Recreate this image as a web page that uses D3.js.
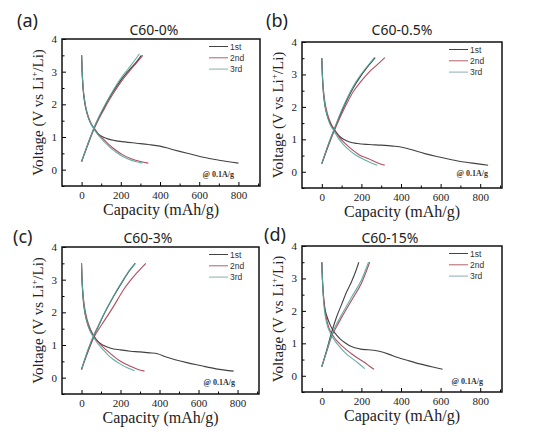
<!DOCTYPE html>
<html><head><meta charset="utf-8">
<script src="https://cdn.jsdelivr.net/npm/d3@7"></script>
<style>body{margin:0;background:#fff}svg{display:block}
.serif{font-family:"Liberation Serif","DejaVu Serif",serif}
.sans{font-family:"Noto Sans","Open Sans",sans-serif}
.arial{font-family:"Liberation Sans","DejaVu Sans",sans-serif}
</style>
</head><body>
<svg id="c" width="539" height="436"></svg>
<script>
// ---------- data ----------
const seriesNames = ["1st", "2nd", "3rd"];
const panelTitles = ["C60-0%", "C60-0.5%", "C60-3%", "C60-15%"];
const panelTags = ["(a)", "(b)", "(c)", "(d)"];
const xTicks = [0, 200, 400, 600, 800];
const yTicks = [0, 1, 2, 3, 4];
const rateNote = "@ 0.1A/g";

// Panel (a) C60-0%  [capacity mAh/g, voltage V]
const a_dis1 = [[0,3.5],[2,3.1],[6,2.6],[12,2.2],[22,1.85],[35,1.58],[50,1.38],[65,1.24],[80,1.12],[100,1.03],[130,0.95],[170,0.89],[220,0.85],[280,0.81],[340,0.77],[400,0.72],[450,0.64],[500,0.56],[560,0.47],[620,0.38],[700,0.29],[800,0.2]];
const a_ch1  = [[0,0.25],[30,0.75],[64,1.28],[110,1.85],[158,2.36],[200,2.74],[242,3.05],[280,3.3],[305,3.5]];
const a_dis2 = [[0,3.5],[3,3.0],[8,2.5],[16,2.1],[28,1.75],[45,1.45],[64,1.27],[85,1.1],[107,0.96],[130,0.82],[158,0.67],[180,0.57],[208,0.46],[250,0.34],[300,0.25],[340,0.2]];
const a_ch2  = [[0,0.25],[30,0.73],[64,1.25],[110,1.8],[158,2.3],[200,2.68],[242,3.0],[280,3.27],[312,3.5]];
const a_dis3 = [[0,3.5],[3,3.0],[8,2.5],[16,2.1],[27,1.75],[44,1.45],[62,1.26],[82,1.08],[104,0.93],[128,0.78],[155,0.63],[180,0.52],[205,0.42],[240,0.32],[280,0.24],[310,0.2]];
const a_ch3  = [[0,0.25],[30,0.76],[64,1.3],[110,1.88],[158,2.4],[200,2.8],[242,3.12],[275,3.38],[295,3.55]];

// Panel (b) C60-0.5%
const b_dis1 = [[0,3.5],[2,3.1],[6,2.6],[12,2.2],[22,1.85],[35,1.6],[50,1.42],[66,1.28],[85,1.12],[110,1.0],[140,0.92],[180,0.87],[240,0.84],[300,0.82],[360,0.79],[410,0.75],[460,0.67],[520,0.56],[580,0.47],[650,0.38],[720,0.3],[780,0.25],[840,0.2]];
const b_ch1  = [[0,0.25],[30,0.78],[64,1.32],[100,1.85],[130,2.25],[160,2.6],[200,2.98],[240,3.3],[270,3.52]];
const b_dis2 = [[0,3.5],[3,3.0],[8,2.55],[16,2.15],[28,1.8],[45,1.5],[66,1.27],[90,1.05],[120,0.86],[150,0.7],[190,0.52],[236,0.4],[280,0.28],[318,0.2]];
const b_ch2  = [[0,0.25],[30,0.75],[64,1.28],[100,1.78],[130,2.15],[160,2.48],[200,2.8],[240,3.08],[280,3.3],[318,3.52]];
const b_dis3 = [[0,3.5],[3,3.0],[8,2.5],[15,2.1],[26,1.75],[42,1.45],[62,1.25],[85,1.02],[112,0.82],[140,0.66],[175,0.5],[215,0.37],[250,0.27],[280,0.2]];
const b_ch3  = [[0,0.25],[30,0.8],[64,1.34],[100,1.9],[130,2.3],[160,2.65],[200,3.02],[240,3.33],[265,3.52]];

// Panel (c) C60-3%
const c_dis1 = [[0,3.5],[2,3.1],[6,2.6],[12,2.2],[22,1.85],[35,1.58],[50,1.38],[66,1.24],[85,1.1],[112,0.99],[150,0.9],[200,0.85],[250,0.81],[300,0.79],[350,0.76],[390,0.73],[430,0.64],[480,0.55],[540,0.46],[610,0.37],[690,0.27],[780,0.2]];
const c_ch1  = [[0,0.25],[30,0.78],[64,1.3],[90,1.62],[112,1.9],[162,2.46],[213,2.97],[247,3.28],[275,3.5]];
const c_dis2 = [[0,3.5],[3,3.0],[8,2.55],[16,2.15],[28,1.8],[45,1.5],[66,1.25],[90,1.06],[112,0.93],[140,0.78],[162,0.67],[200,0.5],[247,0.36],[290,0.25],[323,0.2]];
const c_ch2  = [[0,0.25],[30,0.74],[64,1.24],[90,1.5],[112,1.7],[162,2.16],[213,2.67],[281,3.19],[330,3.5]];
const c_dis3 = [[0,3.5],[3,3.0],[8,2.5],[15,2.1],[26,1.75],[42,1.45],[62,1.24],[85,1.03],[110,0.86],[135,0.7],[160,0.57],[195,0.43],[235,0.3],[272,0.21]];
const c_ch3  = [[0,0.25],[30,0.8],[64,1.32],[90,1.64],[112,1.92],[162,2.48],[213,2.99],[247,3.3],[277,3.5]];

// Panel (d) C60-15%
const d_dis1 = [[0,3.5],[3,3.0],[8,2.5],[15,2.1],[25,1.85],[40,1.6],[55,1.42],[75,1.25],[95,1.12],[117,1.02],[150,0.9],[190,0.83],[234,0.8],[270,0.78],[300,0.74],[340,0.66],[380,0.57],[441,0.46],[500,0.36],[560,0.27],[610,0.2]];
const d_ch1  = [[0,0.28],[25,0.8],[50,1.35],[75,1.82],[100,2.2],[125,2.58],[150,2.9],[170,3.2],[187,3.5]];
const d_dis2 = [[0,3.5],[3,3.0],[7,2.55],[13,2.15],[22,1.8],[35,1.5],[50,1.3],[70,1.12],[100,0.93],[125,0.8],[150,0.68],[180,0.55],[217,0.41],[240,0.3],[264,0.2]];
const d_ch2  = [[0,0.28],[25,0.75],[50,1.22],[75,1.52],[100,1.8],[150,2.32],[200,2.85],[242,3.5]];
const d_dis3 = [[0,3.5],[3,3.0],[7,2.5],[12,2.1],[20,1.75],[32,1.47],[48,1.26],[68,1.06],[95,0.86],[120,0.7],[150,0.55],[180,0.41],[217,0.22]];
const d_ch3  = [[0,0.28],[25,0.77],[50,1.27],[75,1.6],[100,1.88],[150,2.42],[200,2.95],[236,3.5]];

const panelData = [
  [[a_dis1, a_ch1], [a_dis2, a_ch2], [a_dis3, a_ch3]],
  [[b_dis1, b_ch1], [b_dis2, b_ch2], [b_dis3, b_ch3]],
  [[c_dis1, c_ch1], [c_dis2, c_ch2], [c_dis3, c_ch3]],
  [[d_dis1, d_ch1], [d_dis2, d_ch2], [d_dis3, d_ch3]]
];

// ---------- style / layout ----------
const colors = ["#2e2e2e", "#a83a4b", "#4ea79e"];
const legendColors = ["#444", "#b3606c", "#8aaead"];
const layout = [
  {l:62,  t:39,  r:260, b:186, tagX:17,  tagY:27,  titleX:154, titleY:35,  noteX:234, noteY:177},
  {l:302, t:42,  r:502, b:188, tagX:266, tagY:27,  titleX:402, titleY:35,  noteX:488, noteY:176},
  {l:62,  t:247, r:259, b:394, tagX:13,  tagY:243, titleX:148, titleY:243, noteX:235, noteY:385},
  {l:302, t:246, r:502, b:392, tagX:264, tagY:241, titleX:390, titleY:243, noteX:483, noteY:384}
];

const svg = d3.select("#c");
svg.append("rect").attr("width",539).attr("height",436).attr("fill","#fff");

layout.forEach((L, i) => {
  const x = d3.scaleLinear().domain([-100, 910]).range([L.l, L.r]);
  const y = d3.scaleLinear().domain([-0.5, 4]).range([L.b, L.t]);
  const g = svg.append("g");

  // minor ticks
  g.append("g").attr("transform",`translate(0,${L.b})`)
    .call(d3.axisBottom(x).tickValues([100,300,500,700,900]).tickSize(-2.5).tickFormat(""))
    .call(a=>a.select(".domain").remove());
  g.append("g").attr("transform",`translate(${L.l},0)`)
    .call(d3.axisLeft(y).tickValues([-0.5,0.5,1.5,2.5,3.5]).tickSize(-2.5).tickFormat(""))
    .call(a=>a.select(".domain").remove());
  // major ticks
  const xa = g.append("g").attr("transform",`translate(0,${L.b})`)
    .call(d3.axisBottom(x).tickValues(xTicks).tickSize(-4).tickPadding(5).tickFormat(d3.format("d")));
  xa.select(".domain").remove();
  const ya = g.append("g").attr("transform",`translate(${L.l},0)`)
    .call(d3.axisLeft(y).tickValues(yTicks).tickSize(-4).tickPadding(5).tickFormat(d3.format("d")));
  ya.select(".domain").remove();
  g.selectAll("g").attr("font-family",null);
  g.selectAll(".tick line").attr("stroke","#000").attr("stroke-width",1);
  g.selectAll(".tick text").attr("class","serif").attr("font-size",11).attr("fill","#222");

  // curves
  const line = d3.line().x(d=>x(d[0])).y(d=>y(d[1])).curve(d3.curveMonotoneX);
  panelData[i].forEach((pair, s) => {
    pair.forEach(arr => {
      g.append("path").attr("d", line(arr)).attr("fill","none")
        .attr("stroke", colors[s]).attr("stroke-width",1.1).attr("stroke-opacity",0.9);
    });
  });

  // frame
  g.append("rect").attr("x",L.l).attr("y",L.t).attr("width",L.r-L.l).attr("height",L.b-L.t)
    .attr("fill","none").attr("stroke","#111").attr("stroke-width",1.5);

  // legend
  seriesNames.forEach((n, s) => {
    const ly = L.t + 7.5 + s*11.3;
    g.append("line").attr("x1",L.l+147).attr("x2",L.l+166).attr("y1",ly).attr("y2",ly)
      .attr("stroke",legendColors[s]).attr("stroke-width",1);
    g.append("text").attr("class","arial").attr("x",L.l+168).attr("y",ly+3).text(n)
      .attr("font-size",8.5).attr("fill","#333");
  });

  // rate note
  g.append("text").attr("class","serif").attr("x",L.noteX).attr("y",L.noteY).attr("text-anchor","end")
    .attr("font-weight","bold").attr("font-size",8).attr("fill","#333").text(rateNote);

  // axis labels
  g.append("text").attr("class","serif").attr("x",(L.l+L.r)/2).attr("y",L.b+29).attr("text-anchor","middle")
    .attr("font-size",16).attr("fill","#222").text("Capacity (mAh/g)");
  const yl = g.append("text").attr("class","serif")
    .attr("transform",`translate(${L.l-19.5},${(L.t+L.b)/2}) rotate(-90)`)
    .attr("text-anchor","middle").attr("font-size",15).attr("fill","#222");
  yl.append("tspan").text("Voltage (V vs Li");
  yl.append("tspan").attr("font-size",9).attr("dy",-6).text("+");
  yl.append("tspan").attr("dy",6).text("/Li)");

  // title and tag
  g.append("text").attr("class","sans").attr("x",L.titleX).attr("y",L.titleY).attr("text-anchor","middle")
    .attr("font-size",14).attr("fill","#222").text(panelTitles[i]);
  g.append("text").attr("class","sans").attr("x",L.tagX).attr("y",L.tagY)
    .attr("font-size",18).attr("fill","#222").text(panelTags[i]);
});
</script>
</body></html>
